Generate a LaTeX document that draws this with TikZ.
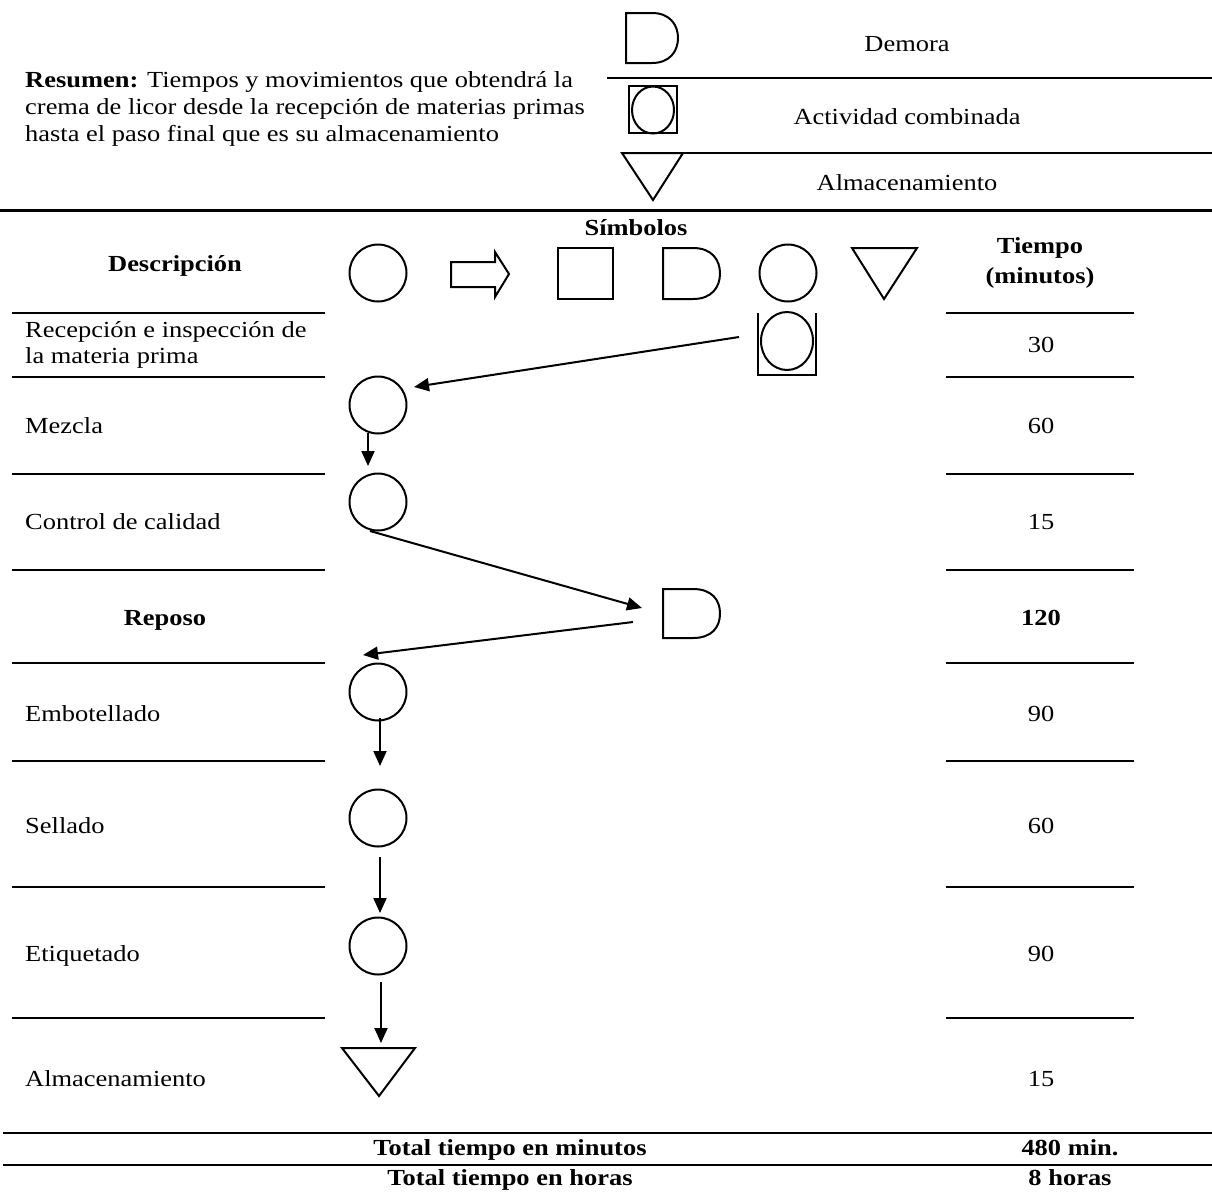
\documentclass[tikz,border=0pt]{standalone}
\usepackage{fontspec}
\setmainfont{Liberation Serif}[FakeStretch=1.15]
\usetikzlibrary{arrows.meta}
\newcommand\fsz{\fontsize{23}{27}\selectfont}
\begin{document}
\begin{tikzpicture}[x=1pt,y=-1pt,
  shp/.style={line width=2pt},
  rule/.style={line width=2pt},
  thickrule/.style={line width=3pt},
  arr/.style={line width=2pt,-{Triangle[length=15pt,width=13pt]}},
  proc/.style={shp,draw,circle,minimum size=57pt,inner sep=0pt},
  txt/.style={inner sep=0pt,anchor=base west,font=\fsz},
  ctxt/.style={inner sep=0pt,anchor=base,font=\fsz},
  btxt/.style={inner sep=0pt,anchor=base,font=\fsz\bfseries}]
\useasboundingbox (0,0) rectangle (1212,1194);
\fill[white] (0,0) rectangle (1212,1194);

% ---------- legend ----------
\draw[shp] (626,13) -- (652,13) .. controls (670,13) and (678,25) .. (678,38)
  .. controls (678,51) and (670,63) .. (652,63) -- (626,63) -- cycle;
\node[ctxt] (lgdem) at (907,51) {Demora};
\draw[rule] (607,78) -- (1212,78);
\draw[shp] (629,86) rectangle (677,133);
\draw[shp] (653,110) ellipse [x radius=21, y radius=23.5];
\node[ctxt] (lgcomb) at (907,124) {Actividad combinada};
\draw[rule] (622,153) -- (1212,153);
\draw[shp] (622,153) -- (683,153) -- (653,200) -- cycle;
\node[ctxt] (lgalm) at (907,190) {Almacenamiento};

\node[txt] (res1) at (25,87) {\textbf{Resumen:} Tiempos y movimientos que obtendrá la};
\node[txt] (res2) at (25,114) {crema de licor desde la recepción de materias primas};
\node[txt] (res3) at (25,141) {hasta el paso final que es su almacenamiento};

\draw[thickrule] (0,210) -- (1212,210);

% ---------- header ----------
\node[btxt] (simb) at (636,235) {Símbolos};
\node[btxt] (desc) at (175,271) {Descripción};
\node[btxt] (tiem1) at (1040,253) {Tiempo};
\node[btxt] (tiem2) at (1040,283) {(minutos)};

\node[proc] (hop) at (378,273) {};
\draw[shp] (451,262) -- (495,262) -- (495,252) -- (509,274) -- (495,297) -- (495,287) -- (451,287) -- cycle;
\draw[shp] (558,248) rectangle (613,299);
\draw[shp] (663,248) -- (693,248) .. controls (712,248) and (720,260) .. (720,273.5)
  .. controls (720,287) and (712,299) .. (693,299) -- (663,299) -- cycle;
\node[proc] (hcirc) at (788,273) {};
\draw[shp] (852,248) -- (917,248) -- (884,299) -- cycle;

% ---------- row rules ----------
\foreach \yy in {313,377,474,570,663,761,887,1018}{
  \draw[rule] (12,\yy) -- (325,\yy);
  \draw[rule] (946,\yy) -- (1134,\yy);
}

% ---------- descriptions and times ----------
\node[txt] (d1a) at (25,337) {Recepción e inspección de};
\node[txt] (d1b) at (25,363) {la materia prima};
\node[ctxt] (t1) at (1041,352) {30};
\node[txt] (d2) at (25,433) {Mezcla};
\node[ctxt] (t2) at (1041,433) {60};
\node[txt] (d3) at (25,529) {Control de calidad};
\node[ctxt] (t3) at (1041,529) {15};
\node[btxt] (d4) at (165,625) {Reposo};
\node[btxt] (t4) at (1041,625) {120};
\node[txt] (d5) at (25,721) {Embotellado};
\node[ctxt] (t5) at (1041,721) {90};
\node[txt] (d6) at (25,833) {Sellado};
\node[ctxt] (t6) at (1041,833) {60};
\node[txt] (d7) at (25,961) {Etiquetado};
\node[ctxt] (t7) at (1041,961) {90};
\node[txt] (d8) at (25,1086) {Almacenamiento};
\node[ctxt] (t8) at (1041,1086) {15};

% ---------- flow shapes ----------
\draw[shp] (758,313) -- (758,375) -- (816,375) -- (816,313);
\draw[shp] (787,341) ellipse [x radius=26, y radius=29];
\node[proc] (mez) at (378,405) {};
\node[proc] (ctl) at (378,502) {};
\draw[shp] (663,589) -- (693,589) .. controls (712,589) and (720,600) .. (720,613.5)
  .. controls (720,627) and (712,638) .. (693,638) -- (663,638) -- cycle;
\node[proc] (emb) at (378,692) {};
\node[proc] (sel) at (378,818) {};
\node[proc] (eti) at (378,946) {};
\draw[shp] (342,1048) -- (415,1048) -- (379,1096) -- cycle;

% ---------- connectors ----------
\coordinate (a1s) at (739,337); \coordinate (a1e) at (414,387);
\coordinate (a2s) at (368,433); \coordinate (a2e) at (368,466);
\coordinate (a3s) at (370,531); \coordinate (a3e) at (642,608);
\coordinate (a4s) at (633,622); \coordinate (a4e) at (363,655);
\coordinate (a5s) at (380,718); \coordinate (a5e) at (380,766);
\coordinate (a6s) at (380,857); \coordinate (a6e) at (380,913);
\coordinate (a7s) at (381,982); \coordinate (a7e) at (381,1043);
\draw[arr] (a1s) -- (a1e);
\draw[arr] (a2s) -- (a2e);
\draw[arr] (a3s) -- (a3e);
\draw[arr] (a4s) -- (a4e);
\draw[arr] (a5s) -- (a5e);
\draw[arr] (a6s) -- (a6e);
\draw[arr] (a7s) -- (a7e);

% ---------- totals ----------
\draw[rule] (3,1133) -- (1212,1133);
\node[btxt] (tot1) at (510,1155) {Total tiempo en minutos};
\node[btxt] (tot1v) at (1070,1155) {480 min.};
\draw[rule] (3,1165) -- (1212,1165);
\node[btxt] (tot2) at (510,1185) {Total tiempo en horas};
\node[btxt] (tot2v) at (1070,1185) {8 horas};
\end{tikzpicture}
\end{document}
